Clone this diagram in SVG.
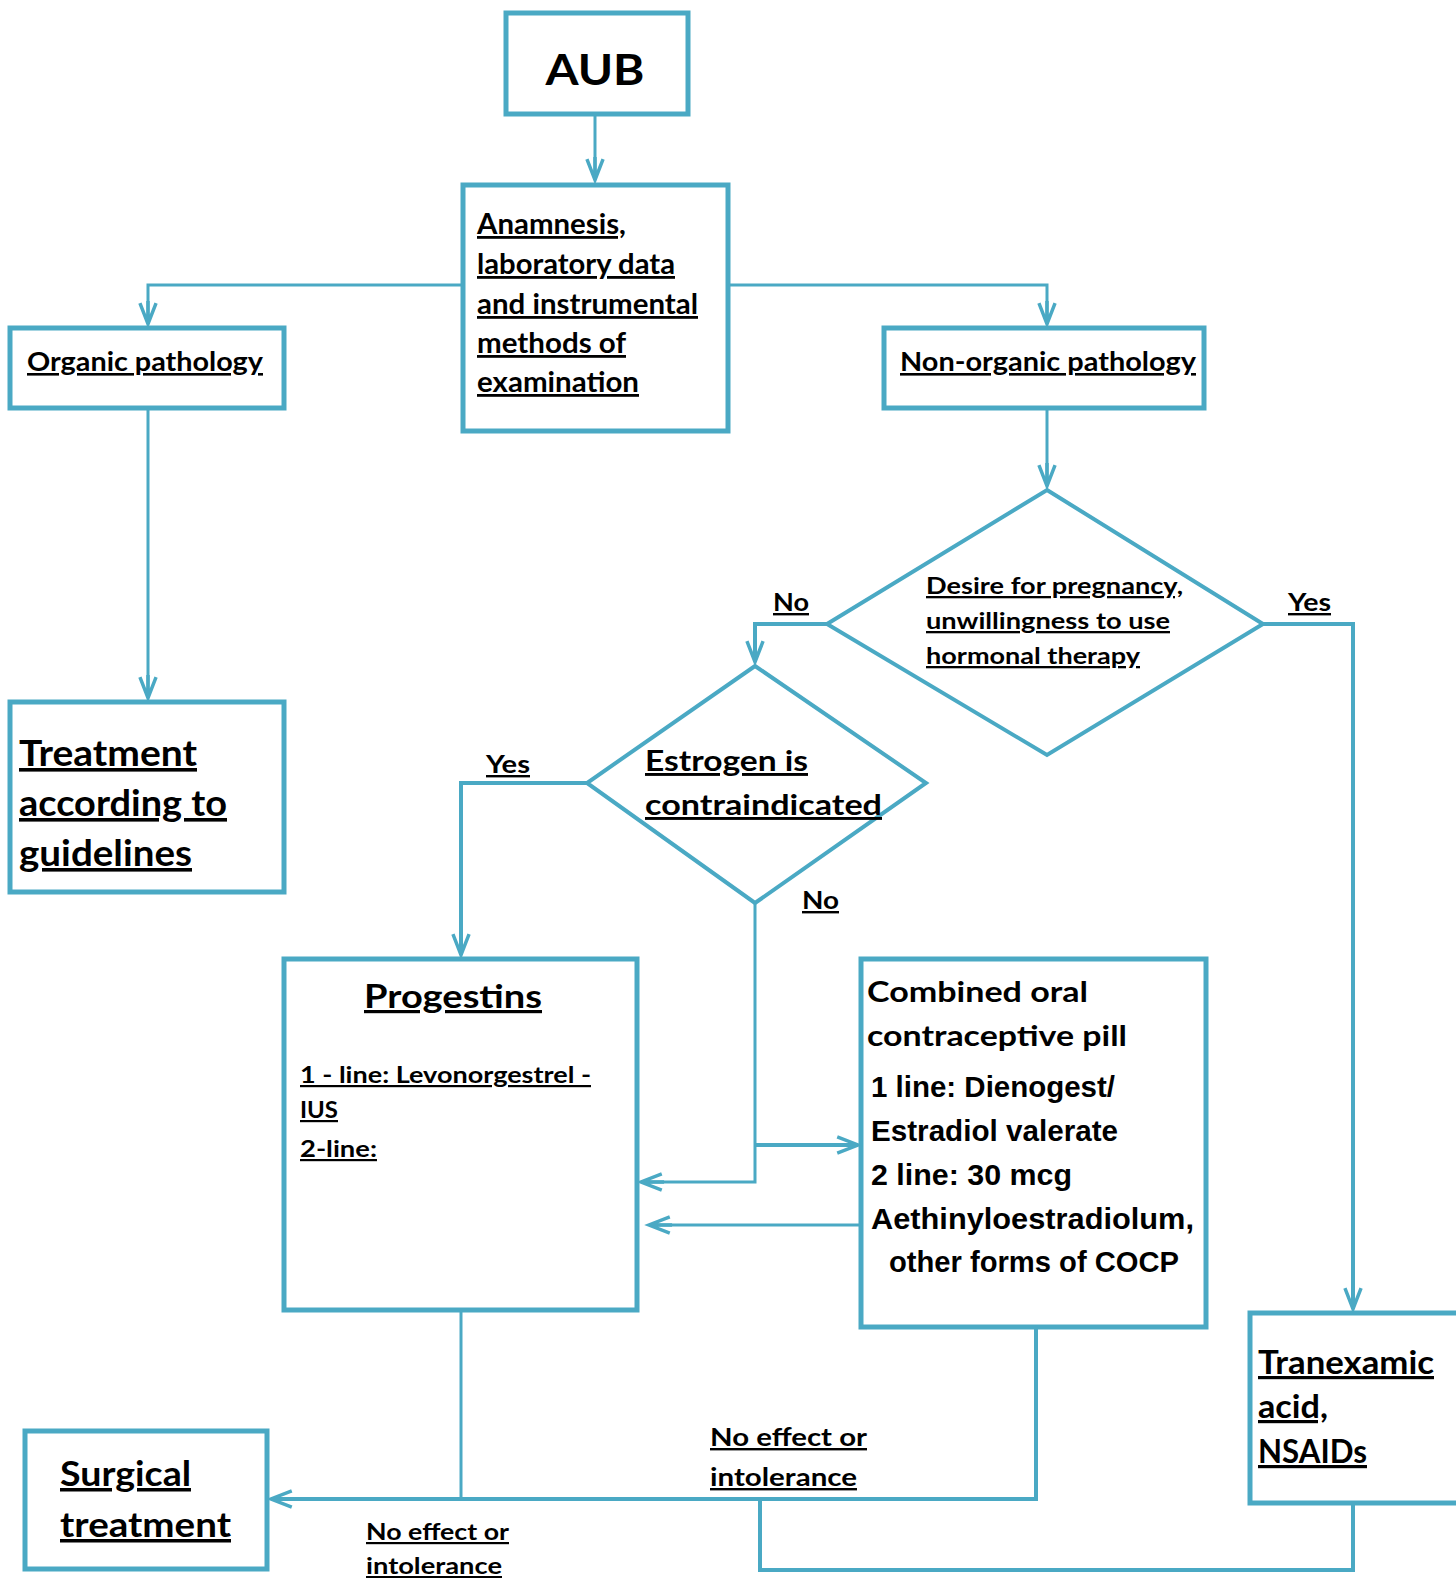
<svg xmlns="http://www.w3.org/2000/svg" width="1456" height="1578" viewBox="0 0 1456 1578">
  <defs>
    <style>
      .box { fill: #ffffff; stroke: #4aa9c4; stroke-width: 5; }
      .dia { fill: #ffffff; stroke: #4aa9c4; stroke-width: 4; stroke-linejoin: miter; }
      .conn { fill: none; stroke: #4aa9c4; stroke-width: 3; }
      .thick { stroke-width: 4; }
      .t { font-family: Lato, "Open Sans", "Liberation Sans", sans-serif; font-weight: bold; fill: #000000; }
      .u { text-decoration: underline; }
      .n { font-family: "Liberation Sans", Arial, sans-serif; font-weight: bold; fill: #000000; }
    </style>
    <marker id="arrow" markerUnits="userSpaceOnUse" markerWidth="30" markerHeight="30" viewBox="-22 -12 26 24" refX="0" refY="0" orient="auto">
      <path d="M-18,-7 L0,0 L-18,7 M-20,0 L0,0" fill="none" stroke="#4aa9c4" stroke-width="3"/>
    </marker>
  </defs>
  <rect width="1456" height="1578" fill="#ffffff"/>

  <!-- connectors -->
  <g id="connectors">
    <path class="conn" d="M595,114 V180" marker-end="url(#arrow)"/>
    <path class="conn" d="M463,285 H148 V324" marker-end="url(#arrow)"/>
    <path class="conn" d="M728,285 H1047 V324" marker-end="url(#arrow)"/>
    <path class="conn" d="M148,410 V698" marker-end="url(#arrow)"/>
    <path class="conn" d="M1047,410 V486" marker-end="url(#arrow)"/>
    <path class="conn thick" d="M827,624 H755 V662" marker-end="url(#arrow)"/>
    <path class="conn thick" d="M1263,624 H1353 V1309" marker-end="url(#arrow)"/>
    <path class="conn thick" d="M587,783 H461 V955" marker-end="url(#arrow)"/>
    <path class="conn" d="M755,903 V1182 H641" marker-end="url(#arrow)"/>
    <path class="conn thick" d="M755,1145 H858" marker-end="url(#arrow)"/>
    <path class="conn" d="M861,1225 H649" marker-end="url(#arrow)"/>
    <path class="conn" d="M461,1311 V1499"/>
    <path class="conn thick" d="M1036,1328 V1499 H271" marker-end="url(#arrow)"/>
    <path class="conn thick" d="M1353,1504 V1570 H760 V1499"/>
  </g>

  <!-- connector labels -->
  <g id="labels">
    <text class="t u" x="773" y="611" font-size="24" textLength="36" lengthAdjust="spacingAndGlyphs">No</text>
    <text class="t u" x="1288" y="611" font-size="24" textLength="43" lengthAdjust="spacingAndGlyphs">Yes</text>
    <text class="t u" x="486" y="773" font-size="24" textLength="44" lengthAdjust="spacingAndGlyphs">Yes</text>
    <text class="t u" x="802" y="909" font-size="24" textLength="37" lengthAdjust="spacingAndGlyphs">No</text>
    <text class="t u" x="710" y="1446" font-size="24" textLength="157" lengthAdjust="spacingAndGlyphs">No effect or</text>
    <text class="t u" x="710" y="1486" font-size="24" textLength="147" lengthAdjust="spacingAndGlyphs">intolerance</text>
    <text class="t u" x="366" y="1540" font-size="22" textLength="143" lengthAdjust="spacingAndGlyphs">No effect or</text>
    <text class="t u" x="366" y="1574" font-size="22" textLength="136" lengthAdjust="spacingAndGlyphs">intolerance</text>
  </g>

  <g id="aub">
    <rect class="box" x="506" y="13" width="182" height="101"/>
    <text class="t" x="595" y="85" font-size="42" text-anchor="middle" textLength="99" lengthAdjust="spacingAndGlyphs">AUB</text>
  </g>

  <g id="examination">
    <rect class="box" x="463" y="185" width="265" height="246"/>
    <text class="t u" x="477" y="234" font-size="28" textLength="149" lengthAdjust="spacingAndGlyphs">Anamnesis,</text>
    <text class="t u" x="477" y="274" font-size="28" textLength="198" lengthAdjust="spacingAndGlyphs">laboratory data</text>
    <text class="t u" x="477" y="314" font-size="28" textLength="221" lengthAdjust="spacingAndGlyphs">and instrumental</text>
    <text class="t u" x="477" y="353" font-size="28" textLength="149" lengthAdjust="spacingAndGlyphs">methods of</text>
    <text class="t u" x="477" y="392" font-size="28" textLength="162" lengthAdjust="spacingAndGlyphs">examination</text>
  </g>

  <g id="organic">
    <rect class="box" x="10" y="328" width="274" height="80"/>
    <text class="t u" x="27" y="371" font-size="26" textLength="236" lengthAdjust="spacingAndGlyphs">Organic pathology</text>
  </g>

  <g id="non-organic">
    <rect class="box" x="884" y="328" width="320" height="80"/>
    <text class="t u" x="900" y="371" font-size="26" textLength="296" lengthAdjust="spacingAndGlyphs">Non-organic pathology</text>
  </g>

  <g id="guidelines">
    <rect class="box" x="10" y="702" width="274" height="190"/>
    <text class="t u" x="19" y="766" font-size="36" textLength="178" lengthAdjust="spacingAndGlyphs">Treatment</text>
    <text class="t u" x="19" y="816" font-size="36" textLength="208" lengthAdjust="spacingAndGlyphs">according to</text>
    <text class="t u" x="19" y="866" font-size="36" textLength="173" lengthAdjust="spacingAndGlyphs">guidelines</text>
  </g>

  <g id="pregnancy-decision">
    <polygon class="dia" points="1047,490 1263,624 1047,755 827,624"/>
    <text class="t u" x="926" y="594" font-size="23" textLength="257" lengthAdjust="spacingAndGlyphs">Desire for pregnancy,</text>
    <text class="t u" x="926" y="629" font-size="23" textLength="244" lengthAdjust="spacingAndGlyphs">unwillingness to use</text>
    <text class="t u" x="926" y="664" font-size="23" textLength="214" lengthAdjust="spacingAndGlyphs">hormonal therapy</text>
  </g>

  <g id="estrogen-decision">
    <polygon class="dia" points="755,666 926,783 755,903 587,783"/>
    <text class="t u" x="645" y="771" font-size="29" textLength="163" lengthAdjust="spacingAndGlyphs">Estrogen is</text>
    <text class="t u" x="645" y="815" font-size="29" textLength="237" lengthAdjust="spacingAndGlyphs">contraindicated</text>
  </g>

  <g id="progestins">
    <rect class="box" x="284" y="959" width="353" height="351"/>
    <text class="t u" x="453" y="1008" font-size="32" text-anchor="middle" textLength="178" lengthAdjust="spacingAndGlyphs">Progestins</text>
    <text class="t u" x="300" y="1083" font-size="22" textLength="291" lengthAdjust="spacingAndGlyphs">1 - line: Levonorgestrel -</text>
    <text class="t u" x="300" y="1118" font-size="22" textLength="38" lengthAdjust="spacingAndGlyphs">IUS</text>
    <text class="t u" x="300" y="1157" font-size="22" textLength="77" lengthAdjust="spacingAndGlyphs">2-line:</text>
  </g>

  <g id="cocp">
    <rect class="box" x="861" y="959" width="345" height="368"/>
    <text class="t" x="867" y="1002" font-size="28" textLength="221" lengthAdjust="spacingAndGlyphs">Combined oral</text>
    <text class="t" x="867" y="1046" font-size="28" textLength="260" lengthAdjust="spacingAndGlyphs">contraceptive pill</text>
    <text class="n" x="871" y="1097" font-size="29" textLength="244" lengthAdjust="spacingAndGlyphs">1 line: Dienogest/</text>
    <text class="n" x="871" y="1141" font-size="29" textLength="247" lengthAdjust="spacingAndGlyphs">Estradiol valerate</text>
    <text class="n" x="871" y="1185" font-size="29" textLength="201" lengthAdjust="spacingAndGlyphs">2 line: 30 mcg</text>
    <text class="n" x="871" y="1229" font-size="29" textLength="323" lengthAdjust="spacingAndGlyphs">Aethinyloestradiolum,</text>
    <text class="n" x="889" y="1272" font-size="29" textLength="290" lengthAdjust="spacingAndGlyphs">other forms of COCP</text>
  </g>

  <g id="tranexamic">
    <rect class="box" x="1250" y="1313" width="210" height="190"/>
    <text class="t u" x="1258" y="1374" font-size="32" textLength="176" lengthAdjust="spacingAndGlyphs">Tranexamic</text>
    <text class="t u" x="1258" y="1418" font-size="32" textLength="70" lengthAdjust="spacingAndGlyphs">acid,</text>
    <text class="t u" x="1258" y="1463" font-size="32" textLength="109" lengthAdjust="spacingAndGlyphs">NSAIDs</text>
  </g>

  <g id="surgical">
    <rect class="box" x="25" y="1431" width="242" height="138"/>
    <text class="t u" x="60" y="1486" font-size="35" textLength="131" lengthAdjust="spacingAndGlyphs">Surgical</text>
    <text class="t u" x="60" y="1537" font-size="35" textLength="171" lengthAdjust="spacingAndGlyphs">treatment</text>
  </g>
</svg>
